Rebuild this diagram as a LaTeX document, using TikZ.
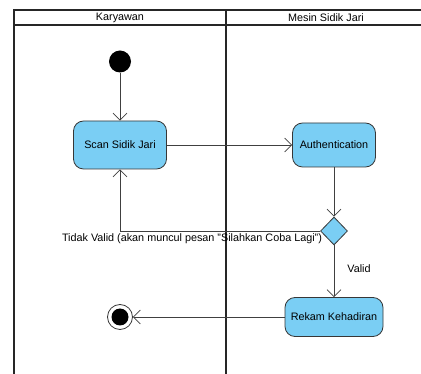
\documentclass[tikz,border=0pt]{standalone}
\usepackage{fontspec}
\setmainfont{Liberation Sans}
\usetikzlibrary{shapes.geometric,arrows.meta}
\definecolor{actfill}{RGB}{122,206,244}
\definecolor{actline}{RGB}{55,55,55}
\begin{document}
\begin{tikzpicture}[x=1pt,y=-1pt,
  font=\fontsize{10.8}{13}\selectfont,
  lane/.style={line width=1.6pt,black!85},
  action/.style={draw=actline, fill=actfill, rounded corners=10pt, line width=0.8pt,
                 align=center, inner sep=0pt},
  decision/.style={diamond, draw=actline, fill=actfill, line width=0.8pt,
                   minimum width=27pt, minimum height=28pt, inner sep=0pt},
  flow/.style={draw=black!75, line width=0.7pt, -{Straight Barb[length=7pt,width=14pt]}},
]
\useasboundingbox (0,0) rectangle (421,374);
% swimlanes
\draw[lane] (14,374) -- (14,10) -- (421,10);
\draw[lane] (14,25) -- (421,25);
\draw[lane] (226,10) -- (226,374);
\node (h1) at (120,17.5) {Karyawan};
\node (h2) at (326,17.5) {Mesin Sidik Jari};

% activity nodes
\node[circle, fill=black, minimum size=22pt, inner sep=0pt] (init) at (120,61.5) {};
\node[action, minimum width=93pt, minimum height=48pt] (scan) at (120,145) {Scan Sidik Jari};
\node[action, minimum width=83pt, minimum height=44pt] (auth) at (334,145) {Authentication};
\node[decision] (dec) at (334,231) {};
\node[action, minimum width=98pt, minimum height=39pt] (rekam) at (334,317) {Rekam Kehadiran};
\node[circle, draw=actline, fill=white, line width=0.8pt, minimum size=25pt, inner sep=0pt,
      path picture={\fill[black] (path picture bounding box.center) circle (8.5pt);}]
      (final) at (120,317) {};

% control flows
\draw[flow] (init) -- (scan);
\draw[flow] (scan) -- (auth);
\draw[flow] (auth) -- (dec);
\draw[flow] (dec.west) -| (scan.south);
\draw[flow] (dec) -- (rekam);
\draw[flow] (rekam) -- (final);

% guard labels
\node (tidak) at (192,239) {Tidak Valid (akan muncul pesan "Silahkan Coba Lagi")};
\node (valid) at (359,269) {Valid};
\end{tikzpicture}
\end{document}
